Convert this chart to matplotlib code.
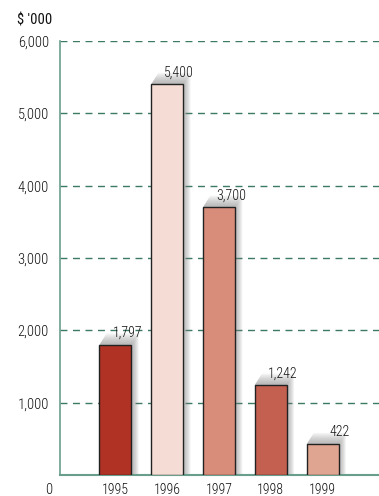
import matplotlib.pyplot as plt
from matplotlib.patches import Polygon

# 数据
years = ['1995', '1996', '1997', '1998', '1999']
values = [1797, 5400, 3700, 1242, 422]
value_labels = ['1,797', '5,400', '3,700', '1,242', '422']
colors = ['#B03224', '#F5DDD5', '#D88C7A', '#C4604F', '#DFA591']
yticks = [1000, 2000, 3000, 4000, 5000, 6000]
ytick_labels = ['1,000', '2,000', '3,000', '4,000', '5,000', '6,000']

plt.rcParams['font.family'] = ['Roboto Condensed', 'DejaVu Sans']
plt.rcParams['font.weight'] = 'light'

fig = plt.figure(figsize=(3.79, 4.96), dpi=100)
ax = fig.add_axes([60/379, 21/496, 319/379, 434/496])

width = 0.62
x = list(range(len(years)))

# 阴影：多层半透明多边形叠加，近似渐变
dx, dy = 0.14, 160
n = 8
for i, v in enumerate(values):
    x0 = i - width/2
    x1 = i + width/2
    for k in range(1, n+1):
        ox = dx*k/n
        oy = dy*k/n
        poly = Polygon([(x0, v), (x0+ox, v+oy), (x1+ox, v+oy), (x1+ox, 0), (x1, 0), (x1, v)],
                       closed=True, facecolor='#808080', edgecolor='none', alpha=0.09, zorder=2)
        ax.add_patch(poly)

ax.bar(x, values, width=width, color=colors, edgecolor='#222222', linewidth=1.0, zorder=3)

for i, v in enumerate(values):
    ax.annotate(value_labels[i], (i + width/2, v), xytext=(11, 12), textcoords='offset pixels',
                ha='right', va='center', fontsize=10, color='#111111', zorder=4)

ax.set_xlim(-1.07, 5.09)
ax.set_ylim(0, 6000)

for t in yticks:
    ax.axhline(t, color='#3d7a62', linestyle=(0, (5, 4)), linewidth=1.0, zorder=1)

ax.set_yticks(yticks)
ax.set_yticklabels(ytick_labels, fontsize=10.5, color='#111111')
ax.set_xticks(x)
ax.set_xticklabels(years, fontsize=10, color='#111111')
ax.tick_params(axis='both', length=0)
ax.tick_params(axis='y', pad=8)
ax.tick_params(axis='x', pad=6)

for s in ['top', 'right']:
    ax.spines[s].set_visible(False)
ax.spines['left'].set_color('#6a9e8c')
ax.spines['bottom'].set_color('#6a9e8c')
ax.spines['left'].set_linewidth(1.2)
ax.spines['bottom'].set_linewidth(1.5)

fig.text(52/379, 1 - 490/496, '0', ha='right', va='center', fontsize=10.5, color='#111111')
fig.text(52/379, 1 - 20/496, "$ '000", ha='right', va='center', fontsize=10.5,
         fontweight='normal', color='#111111')

fig.savefig('out.png', dpi=100)
